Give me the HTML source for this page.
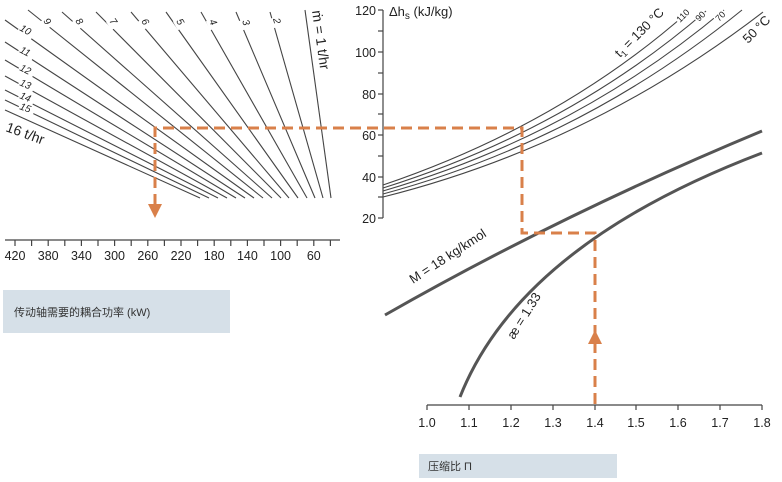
<!DOCTYPE html>
<html><head><meta charset="utf-8"><style>
body{margin:0;background:#fff;}
svg{display:block;font-family:"Liberation Sans","Noto Sans CJK SC",sans-serif;}
</style></head><body>
<svg width="782" height="482" viewBox="0 0 782 482" xmlns="http://www.w3.org/2000/svg">
<rect x="3" y="290" width="227" height="43" fill="#d6e0e8"/>
<text x="14" y="316" font-size="11" fill="#333">传动轴需要的耦合功率 (kW)</text>
<rect x="419" y="454" width="198" height="24" fill="#d6e0e8"/>
<text x="428" y="470" font-size="11" fill="#333">压缩比 Π</text>

<g stroke="#444" stroke-width="1.1" fill="none">
<line x1="305" y1="10" x2="331" y2="198"/>
<line x1="270" y1="12" x2="323" y2="198"/>
<line x1="236" y1="12" x2="315" y2="198"/>
<line x1="201" y1="12" x2="307" y2="198"/>
<line x1="166" y1="12" x2="298" y2="198"/>
<line x1="131" y1="12" x2="289" y2="198"/>
<line x1="96" y1="12" x2="281" y2="198"/>
<line x1="62" y1="12" x2="272" y2="198"/>
<line x1="28" y1="10" x2="263" y2="198"/>
<line x1="5" y1="20" x2="254" y2="198"/>
<line x1="5" y1="42" x2="245" y2="198"/>
<line x1="5" y1="60" x2="236" y2="198"/>
<line x1="5" y1="76" x2="227" y2="198"/>
<line x1="5" y1="90" x2="218" y2="198"/>
<line x1="5" y1="100" x2="209" y2="198"/>
<line x1="5" y1="110" x2="200" y2="198"/>
</g>
<g font-size="10" fill="#222" font-style="italic">
<g transform="translate(43,21) rotate(55)"><rect x="-1" y="-8" width="10" height="11" fill="#fff"/><text>9</text></g>
<g transform="translate(75,21) rotate(55)"><rect x="-1" y="-8" width="10" height="11" fill="#fff"/><text>8</text></g>
<g transform="translate(109,21) rotate(55)"><rect x="-1" y="-8" width="10" height="11" fill="#fff"/><text>7</text></g>
<g transform="translate(141,21) rotate(60)"><rect x="-1" y="-8" width="10" height="11" fill="#fff"/><text>6</text></g>
<g transform="translate(176,21) rotate(60)"><rect x="-1" y="-8" width="10" height="11" fill="#fff"/><text>5</text></g>
<g transform="translate(209,21) rotate(65)"><rect x="-1" y="-8" width="10" height="11" fill="#fff"/><text>4</text></g>
<g transform="translate(242,21) rotate(70)"><rect x="-1" y="-8" width="10" height="11" fill="#fff"/><text>3</text></g>
<g transform="translate(273,19) rotate(75)"><rect x="-1" y="-8" width="10" height="11" fill="#fff"/><text>2</text></g>
<g transform="translate(19,30) rotate(30)"><rect x="-1" y="-8" width="16" height="11" fill="#fff"/><text>10</text></g>
<g transform="translate(19,52) rotate(28)"><rect x="-1" y="-8" width="16" height="11" fill="#fff"/><text>11</text></g>
<g transform="translate(19,70) rotate(26)"><rect x="-1" y="-8" width="16" height="11" fill="#fff"/><text>12</text></g>
<g transform="translate(19,85) rotate(24)"><rect x="-1" y="-8" width="16" height="11" fill="#fff"/><text>13</text></g>
<g transform="translate(19,98) rotate(22)"><rect x="-1" y="-8" width="16" height="11" fill="#fff"/><text>14</text></g>
<g transform="translate(19,109) rotate(20)"><rect x="-1" y="-8" width="16" height="11" fill="#fff"/><text>15</text></g>
</g>
<text transform="translate(5,131) rotate(20)" font-size="14" fill="#222">16 t/hr</text>
<text transform="translate(312,11) rotate(82)" font-size="14" fill="#222">ṁ = 1 t/hr</text>

<g stroke="#444" stroke-width="1.2">
<line x1="5" y1="240" x2="340" y2="240"/>
<line x1="15" y1="240" x2="15" y2="246"/><line x1="31.6" y1="240" x2="31.6" y2="246"/>
<line x1="48.2" y1="240" x2="48.2" y2="246"/><line x1="64.8" y1="240" x2="64.8" y2="246"/>
<line x1="81.4" y1="240" x2="81.4" y2="246"/><line x1="98" y1="240" x2="98" y2="246"/>
<line x1="114.6" y1="240" x2="114.6" y2="246"/><line x1="131.2" y1="240" x2="131.2" y2="246"/>
<line x1="147.8" y1="240" x2="147.8" y2="246"/><line x1="164.4" y1="240" x2="164.4" y2="246"/>
<line x1="181" y1="240" x2="181" y2="246"/><line x1="197.6" y1="240" x2="197.6" y2="246"/>
<line x1="214.2" y1="240" x2="214.2" y2="246"/><line x1="230.8" y1="240" x2="230.8" y2="246"/>
<line x1="247.4" y1="240" x2="247.4" y2="246"/><line x1="264" y1="240" x2="264" y2="246"/>
<line x1="280.6" y1="240" x2="280.6" y2="246"/><line x1="297.2" y1="240" x2="297.2" y2="246"/>
<line x1="313.8" y1="240" x2="313.8" y2="246"/><line x1="330.4" y1="240" x2="330.4" y2="246"/>
</g>
<g font-size="12.5" fill="#222" text-anchor="middle">
<text x="15" y="260">420</text><text x="48.2" y="260">380</text><text x="81.4" y="260">340</text>
<text x="114.6" y="260">300</text><text x="147.8" y="260">260</text><text x="181" y="260">220</text>
<text x="214.2" y="260">180</text><text x="247.4" y="260">140</text><text x="280.6" y="260">100</text>
<text x="313.8" y="260">60</text>
</g>

<g stroke="#444" stroke-width="1.2">
<line x1="383" y1="10" x2="383" y2="218"/>
<line x1="378" y1="10" x2="383" y2="10"/><line x1="378" y1="31" x2="383" y2="31"/>
<line x1="378" y1="52" x2="383" y2="52"/><line x1="378" y1="73" x2="383" y2="73"/>
<line x1="378" y1="94" x2="383" y2="94"/><line x1="378" y1="114" x2="383" y2="114"/>
<line x1="378" y1="135" x2="383" y2="135"/><line x1="378" y1="156" x2="383" y2="156"/>
<line x1="378" y1="177" x2="383" y2="177"/><line x1="378" y1="197" x2="383" y2="197"/>
<line x1="378" y1="218" x2="383" y2="218"/>
</g>
<g font-size="12.5" fill="#222" text-anchor="end">
<text x="376" y="15">120</text><text x="376" y="57">100</text><text x="376" y="99">80</text>
<text x="376" y="140">60</text><text x="376" y="182">40</text><text x="376" y="223">20</text>
</g>
<text x="389" y="16" font-size="13" fill="#222">Δh<tspan font-size="10" dy="3">s</tspan><tspan dy="-3"> (kJ/kg)</tspan></text>

<g stroke="#444" stroke-width="1.1" fill="none">
<path d="M383 185 Q560 125 688 12"/>
<path d="M383 188 Q568 130 706 11"/>
<path d="M383 191 Q575 135 724 10"/>
<path d="M383 194 Q582 140 742 10"/>
<path d="M383 197 Q590 145 763 12"/>
</g>
<g font-size="9" fill="#222">
<g transform="translate(680,23) rotate(-45)"><rect x="-1" y="-7" width="17" height="10" fill="#fff"/><text>110</text></g>
<g transform="translate(699,22) rotate(-45)"><rect x="-1" y="-7" width="12" height="10" fill="#fff"/><text>90</text></g>
<g transform="translate(719,22) rotate(-45)"><rect x="-1" y="-7" width="12" height="10" fill="#fff"/><text>70</text></g>
</g>
<text transform="translate(620,58) rotate(-45)" font-size="13" fill="#222">t<tspan font-size="9" dy="3">1</tspan><tspan dy="-3"> = 130 °C</tspan></text>
<text transform="translate(748,44) rotate(-45)" font-size="13" fill="#222">50 °C</text>

<g stroke="#555" stroke-width="3" fill="none">
<path d="M385 315 Q560 215 762 131"/>
<path d="M460 397 Q520 245 762 153"/>
</g>
<text transform="translate(413,284) rotate(-33)" font-size="13" fill="#222">M = 18 kg/kmol</text>
<text transform="translate(514,340) rotate(-58)" font-size="13" fill="#222">æ = 1.33</text>

<g stroke="#444" stroke-width="1.2">
<line x1="427" y1="405" x2="762" y2="405"/>
<line x1="427" y1="405" x2="427" y2="410"/><line x1="469" y1="405" x2="469" y2="410"/>
<line x1="511" y1="405" x2="511" y2="410"/><line x1="553" y1="405" x2="553" y2="410"/>
<line x1="595" y1="405" x2="595" y2="410"/><line x1="636" y1="405" x2="636" y2="410"/>
<line x1="678" y1="405" x2="678" y2="410"/><line x1="720" y1="405" x2="720" y2="410"/>
<line x1="762" y1="405" x2="762" y2="410"/>
</g>
<g font-size="12.5" fill="#222" text-anchor="middle">
<text x="427" y="427">1.0</text><text x="469" y="427">1.1</text><text x="511" y="427">1.2</text>
<text x="553" y="427">1.3</text><text x="595" y="427">1.4</text><text x="636" y="427">1.5</text>
<text x="678" y="427">1.6</text><text x="720" y="427">1.7</text><text x="762" y="427">1.8</text>
</g>

<g stroke="#d9804a" stroke-width="3" fill="none" stroke-dasharray="11,6">
<polyline points="155,205 155,128 522,128 522,233 595,233 595,405"/>
</g>
<polygon points="148,204 162,204 155,218" fill="#d9804a"/>
<polygon points="588,344 602,344 595,330" fill="#d9804a"/>
</svg>
</body></html>
